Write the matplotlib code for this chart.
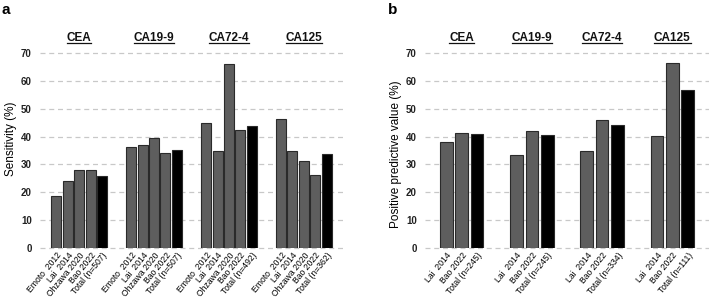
import matplotlib
matplotlib.use("Agg")
import matplotlib.pyplot as plt
from matplotlib.lines import Line2D
import numpy as np

plt.rcParams['font.family'] = ['Liberation Sans', 'DejaVu Sans']

markers = ["CEA", "CA19-9", "CA72-4", "CA125"]

# Panel a: sensitivity
sens_studies = ["Emoto  2012", "Lai  2014", "Ohzawa 2020", "Bao 2022"]
sens_totals = ["Total (n=507)", "Total (n=507)", "Total (n=492)", "Total (n=362)"]
sens_cea = [18.6, 24.0, 27.9, 28.1, 25.7]
sens_ca199 = [36.4, 37.0, 39.6, 34.0, 35.2]
sens_ca724 = [45.0, 34.8, 66.0, 42.3, 43.8]
sens_ca125 = [46.2, 34.8, 31.4, 26.2, 33.6]

# Panel b: positive predictive value
ppv_studies = ["Lai  2014", "Bao 2022"]
ppv_totals = ["Total (n=245)", "Total (n=245)", "Total (n=334)", "Total (n=111)"]
ppv_cea = [38.0, 41.2, 40.8]
ppv_ca199 = [33.3, 41.9, 40.6]
ppv_ca724 = [34.7, 45.9, 44.3]
ppv_ca125 = [40.1, 66.3, 56.8]

W, H = 709, 299
fig = plt.figure(figsize=(W / 100, H / 100), dpi=100)

GRAY = "#5e5e5e"
EDGE = "#2a2a2a"


def draw_panel(rect, groups, studies, totals, group_step, width, ylabel, letter, letter_xy):
    l, t, r, b = rect
    ax = fig.add_axes([l / W, 1 - b / H, (r - l) / W, (b - t) / H])
    n = len(studies) + 1
    xs_all, labels_all = [], []
    for gi, vals in enumerate(groups):
        xs = gi * group_step + np.arange(n)
        colors = [GRAY] * (n - 1) + ["black"]
        ax.bar(xs, vals, width=width, color=colors, edgecolor=EDGE, linewidth=0.8, zorder=3)
        xs_all.extend(xs)
        labels_all.extend(studies + [totals[gi]])
        ax.text(gi * group_step + (n - 1) / 2, 73.3, markers[gi], ha="center", va="bottom",
                fontsize=8.5, fontweight="bold", color="#111111", transform=ax.transData)
    ax.set_ylim(0, 70)
    ax.set_yticks(np.arange(0, 71, 10))
    for y in np.arange(0, 71, 10):
        ax.axhline(y, color="#c8c8c8", linestyle=(0, (4, 3)), linewidth=0.9, zorder=1, clip_on=False)
    ax.set_xticks(xs_all)
    ax.set_xticklabels(labels_all, rotation=51, ha="right", rotation_mode="anchor", fontsize=6.2)
    for s in ax.spines.values():
        s.set_visible(False)
    ax.tick_params(axis="both", length=0)
    ax.tick_params(axis="y", labelsize=7, pad=6)
    for lab in ax.get_yticklabels():
        lab.set_fontweight("bold")
        lab.set_color("#222222")
    ax.tick_params(axis="x", pad=2)
    ax.set_ylabel(ylabel, fontsize=8.5)
    fig.text(letter_xy[0] / W, 1 - letter_xy[1] / H, letter, fontsize=11, fontweight="bold",
             ha="left", va="center")
    return ax


# panel a
step_a = 6.57
axa = draw_panel((40, 53, 343, 248), [sens_cea, sens_ca199, sens_ca724, sens_ca125],
                 sens_studies, sens_totals, step_a, 0.88, "Sensitivity (%)", "a", (1, 10))
axa.set_xlim(-1.43, 3 * step_a + 4 + 1.43)
axa.yaxis.set_label_coords(-23 / 303, 0.56)

step_b = 4.54
axb = draw_panel((425, 53, 709, 248), [ppv_cea, ppv_ca199, ppv_ca724, ppv_ca125],
                 ppv_studies, ppv_totals, step_b, 0.82, "Positive predictive value (%)", "b", (388, 10))
axb.set_xlim(-1.37, 3 * step_b + 2 + 1.37)
axb.yaxis.set_label_coords(-23 / 284, 0.48)

# underline the marker titles
fig.canvas.draw()
renderer = fig.canvas.get_renderer()
for ax in (axa, axb):
    for txt in ax.texts:
        bb = txt.get_window_extent(renderer)
        y = bb.y0 + 0.5
        fig.add_artist(Line2D([bb.x0 / W, bb.x1 / W], [y / H, y / H], transform=fig.transFigure,
                              color="#111111", linewidth=0.9))

fig.savefig("out.png", dpi=100)
